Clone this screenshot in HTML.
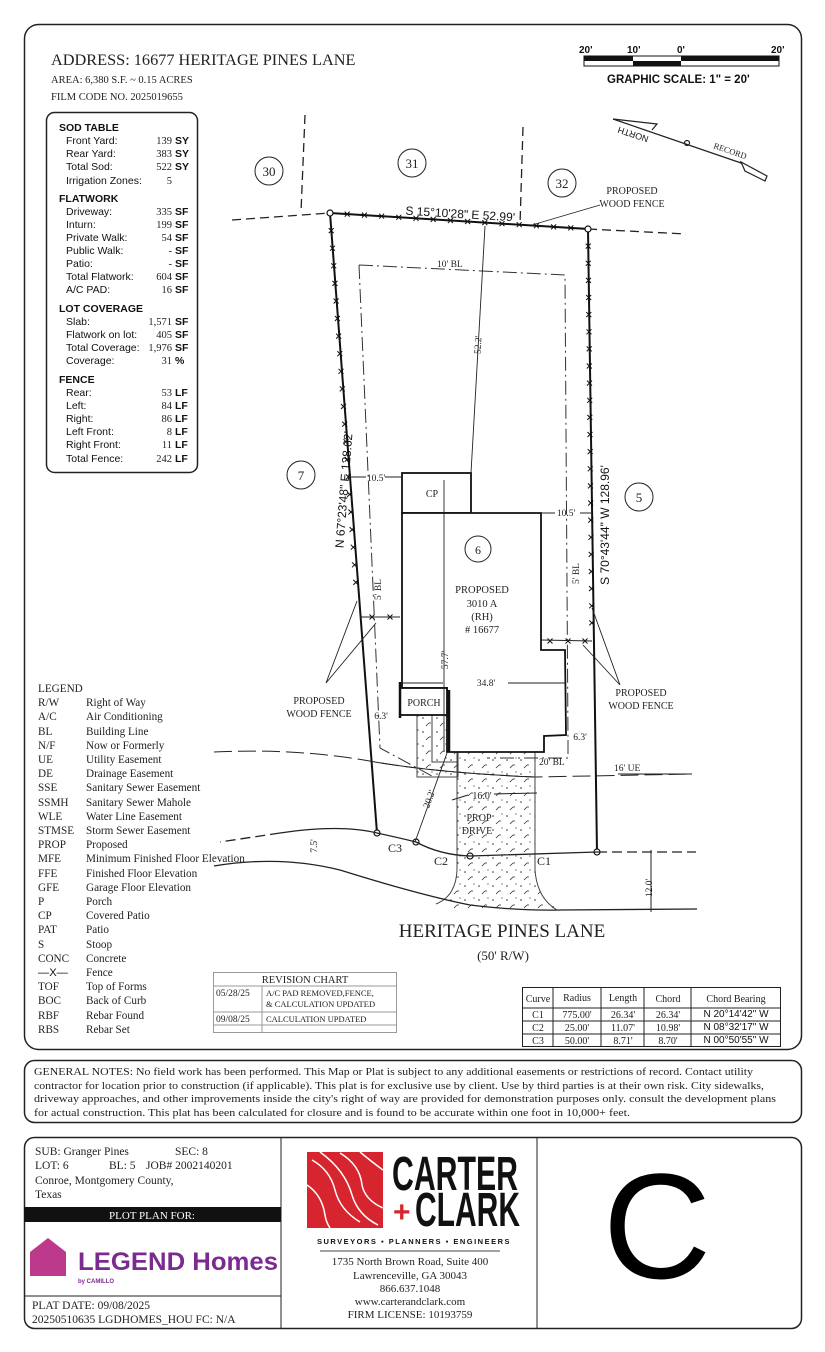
<!DOCTYPE html>
<html><head><meta charset="utf-8"><style>
html,body{margin:0;padding:0;background:#fff}
svg{display:block}
.s{font-family:"Liberation Serif",serif;fill:#222}
.a{font-family:"Liberation Sans",sans-serif;fill:#111}
</style></head><body>
<svg width="825" height="1352" viewBox="0 0 825 1352" xmlns="http://www.w3.org/2000/svg">
<defs>
<pattern id="dots" width="14" height="14" patternUnits="userSpaceOnUse">
<circle cx="3" cy="4" r="0.8" fill="#333"/><circle cx="10" cy="9" r="0.7" fill="#333"/><path d="M6 12 l3 -3" stroke="#333" stroke-width="0.8"/><circle cx="12" cy="2" r="0.6" fill="#333"/>
</pattern>
<path id="xm" d="M-2.5 -2.5 L2.5 2.5 M2.5 -2.5 L-2.5 2.5" stroke="#111" stroke-width="1" fill="none"/>
</defs>
<!-- frames -->
<rect x="24.5" y="24.5" width="777" height="1025" rx="14" fill="none" stroke="#222" stroke-width="1.5"/>
<rect x="24.5" y="1060.5" width="777" height="62" rx="10" fill="none" stroke="#222" stroke-width="1.5"/>
<rect x="24.5" y="1137.5" width="777" height="191" rx="10" fill="none" stroke="#222" stroke-width="1.5"/>

<!-- header -->
<text x="51" y="65" class="s" font-size="16.3">ADDRESS:  16677 HERITAGE PINES LANE</text>
<text x="51" y="83" class="s" font-size="10.5">AREA: 6,380 S.F. ~ 0.15 ACRES</text>
<text x="51" y="100" class="s" font-size="10.5">FILM CODE NO. 2025019655</text>

<!-- scale -->
<g class="a" font-size="10" font-weight="bold">
<text x="579" y="53">20'</text><text x="627" y="53">10'</text><text x="677" y="53">0'</text><text x="771" y="53">20'</text>
</g>
<rect x="584" y="56" width="195" height="10" fill="#fff" stroke="#111" stroke-width="1"/>
<rect x="584" y="56" width="49" height="5" fill="#111"/>
<rect x="633" y="61" width="48" height="5" fill="#111"/>
<rect x="681" y="56" width="98" height="5" fill="#111"/>
<text x="607" y="83" class="a" font-size="11.5" font-weight="bold">GRAPHIC SCALE: 1" = 20'</text>

<!-- north arrow -->
<g stroke="#222" stroke-width="1.2" fill="none">
<path d="M613 119 L744 164"/>
<path d="M613 119 L657 124 L652 130"/>
<path d="M741 162 L745 171 L765 181 L767 176 Z" fill="#fff"/>
<circle cx="687" cy="143" r="2.5"/>
</g>
<text transform="translate(617,126) rotate(198)" class="a" font-size="9" text-anchor="end" x="-2" y="0">NORTH</text>
<text transform="translate(713,148) rotate(19)" class="s" font-size="8.5">RECORD</text>

<!-- sod table -->
<rect x="46.5" y="112.5" width="151" height="360" rx="8" fill="none" stroke="#222" stroke-width="1.5"/>
<g class="a" font-size="10.5">
<text x="59" y="131" font-weight="bold">SOD TABLE</text>
<text x="66" y="144">Front Yard:</text><text x="66" y="157">Rear Yard:</text><text x="66" y="170">Total Sod:</text><text x="66" y="184">Irrigation Zones:</text>
<text x="59" y="202" font-weight="bold">FLATWORK</text>
<text x="66" y="215">Driveway:</text><text x="66" y="228">Inturn:</text><text x="66" y="241">Private Walk:</text><text x="66" y="254">Public Walk:</text><text x="66" y="267">Patio:</text><text x="66" y="280">Total Flatwork:</text><text x="66" y="293">A/C PAD:</text>
<text x="59" y="312" font-weight="bold">LOT COVERAGE</text>
<text x="66" y="325">Slab:</text><text x="66" y="338">Flatwork on lot:</text><text x="66" y="351">Total Coverage:</text><text x="66" y="364">Coverage:</text>
<text x="59" y="383" font-weight="bold">FENCE</text>
<text x="66" y="396">Rear:</text><text x="66" y="409">Left:</text><text x="66" y="422">Right:</text><text x="66" y="435">Left Front:</text><text x="66" y="448">Right Front:</text><text x="66" y="462">Total Fence:</text>
</g>
<g class="s" font-size="10.5" text-anchor="end">
<text x="172" y="144">139</text><text x="172" y="157">383</text><text x="172" y="170">522</text><text x="172" y="184">5</text>
<text x="172" y="215">335</text><text x="172" y="228">199</text><text x="172" y="241">54</text><text x="172" y="254">-</text><text x="172" y="267">-</text><text x="172" y="280">604</text><text x="172" y="293">16</text>
<text x="172" y="325">1,571</text><text x="172" y="338">405</text><text x="172" y="351">1,976</text><text x="172" y="364">31</text>
<text x="172" y="396">53</text><text x="172" y="409">84</text><text x="172" y="422">86</text><text x="172" y="435">8</text><text x="172" y="448">11</text><text x="172" y="462">242</text>
</g>
<g class="a" font-size="10.5" font-weight="bold">
<text x="175" y="144">SY</text><text x="175" y="157">SY</text><text x="175" y="170">SY</text>
<text x="175" y="215">SF</text><text x="175" y="228">SF</text><text x="175" y="241">SF</text><text x="175" y="254">SF</text><text x="175" y="267">SF</text><text x="175" y="280">SF</text><text x="175" y="293">SF</text>
<text x="175" y="325">SF</text><text x="175" y="338">SF</text><text x="175" y="351">SF</text><text x="175" y="364">%</text>
<text x="175" y="396">LF</text><text x="175" y="409">LF</text><text x="175" y="422">LF</text><text x="175" y="435">LF</text><text x="175" y="448">LF</text><text x="175" y="462">LF</text>
</g>

<!-- neighbor lines -->
<g stroke="#222" stroke-width="1.3" fill="none" stroke-dasharray="9,5">
<path d="M305 115 L301 212"/>
<path d="M523 127 L520 225"/>
<path d="M232 220 L330 213"/>
<path d="M588 229 L686 234"/>
</g>
<!-- lot lines -->
<g stroke="#111" stroke-width="2" fill="none">
<path d="M330 213 L588 229 L597 852"/>
<path d="M330 213 L377 833"/>
</g>
<g fill="#fff" stroke="#111" stroke-width="1.2">
<circle cx="330" cy="213" r="3"/><circle cx="588" cy="229" r="3"/><circle cx="597" cy="852" r="3"/><circle cx="377" cy="833" r="3"/><circle cx="416" cy="842" r="3"/><circle cx="470" cy="856" r="3"/>
</g>
<!-- fence x marks -->
<g>
<use href="#xm" x="347.2" y="214.1"/><use href="#xm" x="364.4" y="215.1"/><use href="#xm" x="381.6" y="216.2"/><use href="#xm" x="398.8" y="217.3"/><use href="#xm" x="416" y="218.3"/><use href="#xm" x="433.2" y="219.4"/><use href="#xm" x="450.4" y="220.5"/><use href="#xm" x="467.6" y="221.5"/><use href="#xm" x="484.8" y="222.6"/><use href="#xm" x="502" y="223.7"/><use href="#xm" x="519.2" y="224.7"/><use href="#xm" x="536.4" y="225.8"/><use href="#xm" x="553.6" y="226.9"/><use href="#xm" x="570.8" y="227.9"/>
<use href="#xm" x="331.2" y="230.6"/><use href="#xm" x="332.5" y="248.2"/><use href="#xm" x="333.7" y="265.8"/><use href="#xm" x="334.9" y="283.4"/><use href="#xm" x="336.1" y="301"/><use href="#xm" x="337.4" y="318.5"/><use href="#xm" x="338.6" y="336.1"/><use href="#xm" x="339.8" y="353.7"/><use href="#xm" x="341" y="371.3"/><use href="#xm" x="342.3" y="388.9"/><use href="#xm" x="343.5" y="406.5"/><use href="#xm" x="344.7" y="424.1"/><use href="#xm" x="346" y="441.7"/><use href="#xm" x="347.2" y="459.3"/><use href="#xm" x="348.4" y="476.9"/><use href="#xm" x="349.6" y="494.4"/><use href="#xm" x="350.9" y="512"/><use href="#xm" x="352.1" y="529.6"/><use href="#xm" x="353.3" y="547.2"/><use href="#xm" x="354.5" y="564.8"/><use href="#xm" x="355.8" y="582.4"/>
<use href="#xm" x="588.2" y="246.1"/><use href="#xm" x="588.3" y="263.3"/><use href="#xm" x="588.5" y="280.4"/><use href="#xm" x="588.7" y="297.5"/><use href="#xm" x="588.8" y="314.6"/><use href="#xm" x="589" y="331.8"/><use href="#xm" x="589.2" y="348.9"/><use href="#xm" x="589.3" y="366"/><use href="#xm" x="589.5" y="383.1"/><use href="#xm" x="589.7" y="400.3"/><use href="#xm" x="589.8" y="417.4"/><use href="#xm" x="590" y="434.5"/><use href="#xm" x="590.2" y="451.6"/><use href="#xm" x="590.3" y="468.8"/><use href="#xm" x="590.5" y="485.9"/><use href="#xm" x="590.7" y="503"/><use href="#xm" x="590.8" y="520.1"/><use href="#xm" x="591" y="537.3"/><use href="#xm" x="591.2" y="554.4"/><use href="#xm" x="591.3" y="571.5"/><use href="#xm" x="591.5" y="588.6"/><use href="#xm" x="591.7" y="605.8"/><use href="#xm" x="591.8" y="622.9"/>
<use href="#xm" x="372" y="617"/><use href="#xm" x="390" y="617"/><use href="#xm" x="550" y="641"/><use href="#xm" x="568" y="641"/><use href="#xm" x="585" y="641"/>
</g>

<!-- building line -->
<g stroke="#333" stroke-width="1" fill="none" stroke-dasharray="14,4,2,4">
<path d="M359 265 L565 275 L568 740"/>
<path d="M359 265 L380 748 L432 776"/>
<path d="M568 740 L568 758 L487 758"/>
</g>
<text x="437" y="267" class="s" font-size="9.5">10' BL</text>
<text x="539" y="765" class="s" font-size="9.5">20' BL</text>
<text transform="translate(381,600) rotate(-90)" class="s" font-size="9.5">5' BL</text>
<text transform="translate(579,584) rotate(-90)" class="s" font-size="9.5">5' BL</text>

<!-- UE line -->
<path d="M214 752 Q300 748 375 762 Q440 773 535 777 L692 774" fill="none" stroke="#222" stroke-width="1" stroke-dasharray="18,6"/>
<path d="M375 762 Q440 773 535 777" fill="none" stroke="#222" stroke-width="1"/>
<path d="M618 774 L692 774" stroke="#222" stroke-width="1"/>
<text x="614" y="771" class="s" font-size="9.5">16' UE</text>

<!-- walk & drive -->
<rect x="417" y="715" width="41" height="62" fill="url(#dots)" stroke="#444" stroke-width="1"/>
<path d="M432 715 L432 762 L458 762" fill="none" stroke="#444" stroke-width="1"/>
<path d="M457 752 L535 752 L535 870 Q537 898 560 910 L440 910 Q456 898 457 870 Z" fill="url(#dots)" stroke="none"/>
<path d="M457 752 L457 870 Q456 896 436 904 M535 752 L535 870 Q537 898 557 910" fill="none" stroke="#444" stroke-width="1"/>
<text x="479" y="821" class="s" font-size="10" text-anchor="middle">PROP</text>
<text x="477" y="834" class="s" font-size="10" text-anchor="middle">DRIVE</text>
<path d="M452 800 L468 795 M494 794 L537 793" stroke="#222" stroke-width="1"/>
<text x="482" y="799" class="s" font-size="10" text-anchor="middle">16.0'</text>

<!-- road -->
<g fill="none" stroke="#222" stroke-width="1.3">
<path d="M280 833 Q340 824 377 833 Q400 838 416 842 Q440 855 470 856 L597 852"/>
<path d="M597 852 L696 852" stroke-dasharray="10,5"/>
<path d="M280 833 L220 842" stroke-dasharray="10,5"/>
<path d="M214 866 Q280 855 340 870 Q420 895 470 905 Q520 911 560 910 L697 909"/>
</g>
<path d="M651 850 L651 912" stroke="#222" stroke-width="1"/>
<text transform="translate(652,888) rotate(-90)" class="s" font-size="9.5" text-anchor="middle">12.0'</text>
<text transform="translate(317,846) rotate(-90)" class="s" font-size="9.5" text-anchor="middle">7.5'</text>
<text x="388" y="852" class="s" font-size="12">C3</text>
<text x="434" y="865" class="s" font-size="12">C2</text>
<text x="537" y="865" class="s" font-size="12">C1</text>
<text x="502" y="937" class="s" font-size="19" text-anchor="middle">HERITAGE PINES LANE</text>
<text x="503" y="960" class="s" font-size="13" text-anchor="middle">(50' R/W)</text>

<!-- house -->
<g fill="#fff" stroke="#111" stroke-width="1.8">
<rect x="402" y="473" width="69" height="40"/>
<path d="M402 513 L541 513 L541 650 L565 650 L566 735 L544 736 L544 752 L447 752 L447 688 L402 688 Z"/>
<rect x="400" y="688" width="47" height="27"/>
</g>
<path d="M449 752 L449 690 M400 682 L400 718" stroke="#111" stroke-width="2.5"/>
<text x="432" y="497" class="s" font-size="10" text-anchor="middle">CP</text>
<text x="424" y="706" class="s" font-size="10" text-anchor="middle">PORCH</text>
<text x="482" y="593" class="s" font-size="10.5" text-anchor="middle">PROPOSED</text>
<text x="482" y="607" class="s" font-size="10.5" text-anchor="middle">3010 A</text>
<text x="482" y="620" class="s" font-size="10.5" text-anchor="middle">(RH)</text>
<text x="482" y="633" class="s" font-size="10.5" text-anchor="middle"># 16677</text>
<circle cx="478" cy="549" r="13" fill="none" stroke="#222" stroke-width="1"/>
<text x="478" y="554" class="s" font-size="12" text-anchor="middle">6</text>

<!-- dimensions -->
<g stroke="#222" stroke-width="0.9" fill="none">
<path d="M485 226 L471 473"/>
<path d="M444 480 L444 752"/>
<path d="M402 683 L443 683 M508 683 L565 683"/>
<path d="M349 477 L366 477 M385 477 L402 477"/>
<path d="M541 513 L555 513 M580 513 L592 513"/>
<path d="M447 753 L415 842"/>
</g>
<text transform="translate(481,345) rotate(-87)" class="s" font-size="9.5" text-anchor="middle">52.2'</text>
<text transform="translate(448,660) rotate(-90)" class="s" font-size="9.5" text-anchor="middle">57.7'</text>
<text x="486" y="686" class="s" font-size="9.5" text-anchor="middle">34.8'</text>
<text x="376" y="481" class="s" font-size="9.5" text-anchor="middle">10.5'</text>
<text x="566" y="516" class="s" font-size="9.5" text-anchor="middle">10.5'</text>
<text x="381" y="719" class="s" font-size="9.5" text-anchor="middle">6.3'</text>
<text x="580" y="740" class="s" font-size="9.5" text-anchor="middle">6.3'</text>
<text transform="translate(432,800) rotate(-70)" class="s" font-size="9.5" text-anchor="middle">20.2'</text>
<!-- fence side lines -->
<path d="M360 617 L400 617 M541 640 L592 641" stroke="#222" stroke-width="1"/>
<g stroke="#222" stroke-width="0.9" fill="none">
<path d="M326 683 L357 601 M326 683 L376 623"/>
<path d="M620 685 L592 608 M620 685 L583 645"/>
<path d="M600 205 L532 225"/>
</g>
<text x="319" y="704" class="s" font-size="10" text-anchor="middle">PROPOSED</text>
<text x="319" y="717" class="s" font-size="10" text-anchor="middle">WOOD FENCE</text>
<text x="641" y="696" class="s" font-size="10" text-anchor="middle">PROPOSED</text>
<text x="641" y="709" class="s" font-size="10" text-anchor="middle">WOOD FENCE</text>
<text x="632" y="194" class="s" font-size="10" text-anchor="middle">PROPOSED</text>
<text x="632" y="207" class="s" font-size="10" text-anchor="middle">WOOD FENCE</text>

<!-- bearings -->
<text transform="translate(460,218) rotate(3.5)" class="a" font-size="12" text-anchor="middle">S 15°10'28" E  52.99'</text>
<text transform="translate(348,490) rotate(-85.5)" class="a" font-size="12" text-anchor="middle">N 67°23'48" E  128.62'</text>
<text transform="translate(609,525) rotate(-90)" class="a" font-size="12" text-anchor="middle">S 70°43'44" W  128.96'</text>

<!-- lot labels -->
<g fill="none" stroke="#222" stroke-width="1">
<circle cx="269" cy="171" r="14"/><circle cx="412" cy="163" r="14"/><circle cx="562" cy="183" r="14"/><circle cx="301" cy="475" r="14"/><circle cx="639" cy="497" r="14"/>
</g>
<g class="s" font-size="13" text-anchor="middle">
<text x="269" y="176">30</text><text x="412" y="168">31</text><text x="562" y="188">32</text><text x="301" y="480">7</text><text x="639" y="502">5</text>
</g>

<!-- legend -->
<g class="s" font-size="11.2">
<text x="38" y="692">LEGEND</text>
<text x="38" y="706">R/W</text><text x="86" y="706">Right of Way</text>
<text x="38" y="720">A/C</text><text x="86" y="720">Air Conditioning</text>
<text x="38" y="735">BL</text><text x="86" y="735">Building Line</text>
<text x="38" y="749">N/F</text><text x="86" y="749">Now or Formerly</text>
<text x="38" y="763">UE</text><text x="86" y="763">Utility Easement</text>
<text x="38" y="777">DE</text><text x="86" y="777">Drainage Easement</text>
<text x="38" y="791">SSE</text><text x="86" y="791">Sanitary Sewer Easement</text>
<text x="38" y="806">SSMH</text><text x="86" y="806">Sanitary Sewer Mahole</text>
<text x="38" y="820">WLE</text><text x="86" y="820">Water Line Easement</text>
<text x="38" y="834">STMSE</text><text x="86" y="834">Storm Sewer Easement</text>
<text x="38" y="848">PROP</text><text x="86" y="848">Proposed</text>
<text x="38" y="862">MFE</text><text x="86" y="862">Minimum Finished Floor Elevation</text>
<text x="38" y="877">FFE</text><text x="86" y="877">Finished Floor Elevation</text>
<text x="38" y="891">GFE</text><text x="86" y="891">Garage Floor Elevation</text>
<text x="38" y="905">P</text><text x="86" y="905">Porch</text>
<text x="38" y="919">CP</text><text x="86" y="919">Covered Patio</text>
<text x="38" y="933">PAT</text><text x="86" y="933">Patio</text>
<text x="38" y="948">S</text><text x="86" y="948">Stoop</text>
<text x="38" y="962">CONC</text><text x="86" y="962">Concrete</text>
<text x="38" y="976" class="a">—X—</text><text x="86" y="976">Fence</text>
<text x="38" y="990">TOF</text><text x="86" y="990">Top of Forms</text>
<text x="38" y="1004">BOC</text><text x="86" y="1004">Back of Curb</text>
<text x="38" y="1019">RBF</text><text x="86" y="1019">Rebar Found</text>
<text x="38" y="1033">RBS</text><text x="86" y="1033">Rebar Set</text>
</g>

<!-- revision chart -->
<g stroke="#999" stroke-width="1" fill="none">
<rect x="213.5" y="972.5" width="183" height="60"/>
<path d="M213 986 H397 M213 1012 H397 M213 1025 H397 M262 986 V1033"/>
</g>
<g class="s" font-size="9.5">
<text x="305" y="983" text-anchor="middle" font-size="10.5">REVISION CHART</text>
<text x="216" y="996">05/28/25</text><text x="266" y="996" font-size="8.5">A/C PAD REMOVED,FENCE,</text><text x="266" y="1007" font-size="8.5">&amp; CALCULATION UPDATED</text>
<text x="216" y="1022">09/08/25</text><text x="266" y="1022" font-size="8.5">CALCULATION UPDATED</text>
</g>

<!-- curve table -->
<g stroke="#222" stroke-width="1" fill="none">
<rect x="522.5" y="987.5" width="258" height="59"/>
<path d="M522 1008 H781 M522 1021 H781 M522 1034 H781 M553 988 V1047 M601 988 V1047 M644 988 V1047 M691 988 V1047"/>
</g>
<g class="s" font-size="10" text-anchor="middle">
<text x="538" y="1002">Curve</text><text x="577" y="1001">Radius</text><text x="623" y="1001">Length</text><text x="668" y="1002">Chord</text><text x="736" y="1002">Chord Bearing</text>
<text x="538" y="1018">C1</text><text x="577" y="1018">775.00'</text><text x="623" y="1018">26.34'</text><text x="668" y="1018">26.34'</text><text x="736" y="1017" class="a" font-size="10">N 20°14'42" W</text>
<text x="538" y="1031">C2</text><text x="577" y="1031">25.00'</text><text x="623" y="1031">11.07'</text><text x="668" y="1031">10.98'</text><text x="736" y="1030" class="a" font-size="10">N 08°32'17" W</text>
<text x="538" y="1044">C3</text><text x="577" y="1044">50.00'</text><text x="623" y="1044">8.71'</text><text x="668" y="1044">8.70'</text><text x="736" y="1043" class="a" font-size="10">N 00°50'55" W</text>
</g>

<!-- general notes -->
<g class="s" font-size="10.5">
<text x="34" y="1075" textLength="719" lengthAdjust="spacingAndGlyphs">GENERAL NOTES: No field work has been performed. This Map or Plat is subject to any additional easements or restrictions of record. Contact utility</text>
<text x="34" y="1089" textLength="730" lengthAdjust="spacingAndGlyphs">contractor for location prior to construction (if applicable). This plat is for exclusive use by client. Use by third parties is at their own risk. City sidewalks,</text>
<text x="34" y="1102" textLength="742" lengthAdjust="spacingAndGlyphs">driveway approaches, and other improvements inside the city's right of way are provided for demonstration purposes only. consult the development plans</text>
<text x="34" y="1116" textLength="596" lengthAdjust="spacingAndGlyphs">for actual construction. This plat has been calculated for closure and is found to be accurate within one foot in 10,000+ feet.</text>
</g>

<!-- title block -->
<path d="M281 1137 V1328 M537 1137 V1328" stroke="#222" stroke-width="1"/>
<rect x="24" y="1207" width="257" height="15" fill="#111"/>
<text x="152" y="1219" class="s" font-size="11" text-anchor="middle" style="fill:#fff">PLOT PLAN FOR:</text>
<path d="M24 1296 H281" stroke="#222" stroke-width="1"/>
<g class="s" font-size="11.5">
<text x="35" y="1155">SUB: Granger Pines</text><text x="175" y="1155">SEC: 8</text>
<text x="35" y="1169">LOT: 6</text><text x="109" y="1169">BL: 5</text><text x="146" y="1169">JOB# 2002140201</text>
<text x="35" y="1184">Conroe, Montgomery County,</text>
<text x="35" y="1198">Texas</text>
<text x="32" y="1309">PLAT DATE:  09/08/2025</text>
<text x="32" y="1323">20250510635  LGDHOMES_HOU  FC: N/A</text>
</g>
<!-- legend homes logo -->
<path d="M30 1252 L48 1238 L66 1252 L66 1276 L30 1276 Z" fill="#b5237f" opacity="0.9"/>
<text x="78" y="1270" font-family="Liberation Sans,sans-serif" font-weight="bold" font-size="25" fill="#7b2b8f" textLength="200" lengthAdjust="spacingAndGlyphs">LEGEND Homes</text>
<text x="78" y="1283" font-family="Liberation Sans,sans-serif" font-weight="bold" font-size="6" fill="#7b2b8f">by CAMILLO</text>

<!-- carter clark -->
<rect x="307" y="1152" width="76" height="76" fill="#d7252f"/>
<g fill="none" stroke="#fff" stroke-width="1.5">
<path d="M312 1160 Q330 1170 335 1190 Q340 1210 360 1222"/>
<path d="M320 1152 Q345 1170 352 1195 Q358 1215 378 1225"/>
<path d="M340 1153 Q360 1165 362 1185 Q365 1200 383 1208"/>
<path d="M307 1185 Q322 1195 325 1215 Q326 1222 330 1228"/>
<path d="M360 1152 Q372 1162 383 1170"/>
</g>
<text x="392" y="1190" font-family="Liberation Sans,sans-serif" font-weight="bold" font-size="48" fill="#111" textLength="126" lengthAdjust="spacingAndGlyphs">CARTER</text>
<text x="393" y="1222" font-family="Liberation Sans,sans-serif" font-weight="bold" font-size="30" fill="#d7252f">+</text>
<text x="415" y="1226" font-family="Liberation Sans,sans-serif" font-weight="bold" font-size="48" fill="#111" textLength="105" lengthAdjust="spacingAndGlyphs">CLARK</text>
<text x="414" y="1244" font-family="Liberation Sans,sans-serif" font-weight="bold" font-size="7.5" fill="#111" text-anchor="middle" style="letter-spacing:1.5px">SURVEYORS ▪ PLANNERS ▪ ENGINEERS</text>
<path d="M320 1251 H500" stroke="#444" stroke-width="1"/>
<g class="s" font-size="11" text-anchor="middle">
<text x="410" y="1265">1735 North Brown Road, Suite 400</text>
<text x="410" y="1279">Lawrenceville, GA 30043</text>
<text x="410" y="1292">866.637.1048</text>
<text x="410" y="1305">www.carterandclark.com</text>
<text x="410" y="1318">FIRM LICENSE: 10193759</text>
</g>
<text x="657" y="1278" font-family="Liberation Sans,sans-serif" font-size="150" fill="#000" text-anchor="middle">C</text>
</svg>
</body></html>
